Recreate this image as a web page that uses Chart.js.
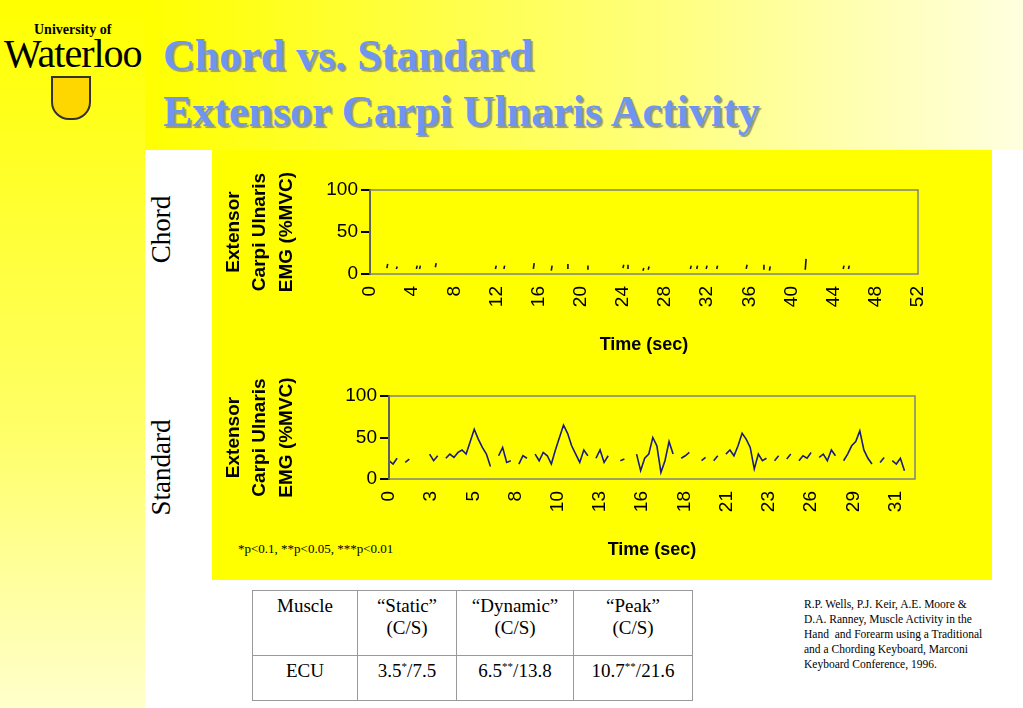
<!DOCTYPE html>
<html><head><meta charset="utf-8">
<script src="https://cdn.jsdelivr.net/npm/chart.js@4"></script>
<style>
body{margin:0;width:1023px;height:708px;position:relative;overflow:hidden;background:#fff;font-family:"Liberation Serif",serif}
#leftstrip{position:absolute;left:0;top:0;width:145px;height:708px;background:linear-gradient(180deg,#ffff00 0%,#ffff66 60%,#ffffcc 100%)}
#topband{position:absolute;left:145px;top:0;width:878px;height:150px;background:linear-gradient(90deg,#ffff00 0%,#ffff80 60%,#ffffe0 100%)}
#panel{position:absolute;left:212px;top:150px;width:780px;height:430px;background:#ffff00}
.title{position:absolute;left:163px;font:bold 44px "Liberation Serif",serif;color:#6f95f0;text-shadow:2px 2px 1px #9a9a70;white-space:nowrap}
.side{position:absolute;font:27px "Liberation Serif",serif;transform:rotate(-90deg);transform-origin:center;white-space:nowrap}
canvas{position:absolute}
table{position:absolute;left:252px;top:590px;border-collapse:collapse;font:19px "Liberation Serif",serif;text-align:center}
td{border:1px solid #999;vertical-align:top;padding:4px 2px}
sup{font-size:11px}
</style></head><body>
<div id="leftstrip"></div><div id="topband"></div><div id="panel"></div>
<div style="position:absolute;left:34px;top:22px;font:bold 14px 'Liberation Serif',serif">University of</div>
<div style="position:absolute;left:4px;top:30px;font:40px 'Liberation Serif',serif;letter-spacing:-1px">Waterloo</div>
<div style="position:absolute;left:51px;top:76px;width:36px;height:40px;background:#ffd700;border:2px solid #333;border-radius:0 0 18px 18px"></div>
<div class="title" style="top:30px">Chord vs. Standard</div>
<div class="title" style="top:86px">Extensor Carpi Ulnaris Activity</div>
<div class="side" style="left:128px;top:214px">Chord</div>
<div class="side" style="left:114px;top:452px">Standard</div>
<div style="position:absolute;left:238px;top:541px;font:13px 'Liberation Serif',serif">*p&lt;0.1, **p&lt;0.05, ***p&lt;0.01</div>
<canvas id="c1" width="730" height="190" style="left:220px;top:170px;width:730px;height:190px"></canvas>
<canvas id="c2" width="730" height="189" style="left:220px;top:376px;width:730px;height:189px"></canvas>
<table>
<tr style="height:65px"><td style="width:100px">Muscle</td><td style="width:94px">“Static”<br>(C/S)</td><td style="width:112px">“Dynamic”<br>(C/S)</td><td style="width:114px">“Peak”<br>(C/S)</td></tr>
<tr style="height:45px"><td>ECU</td><td>3.5<sup>*</sup>/7.5</td><td>6.5<sup>**</sup>/13.8</td><td>10.7<sup>**</sup>/21.6</td></tr>
</table>
<div style="position:absolute;left:804px;top:597px;width:180px;font:11.5px 'Liberation Serif',serif;line-height:15px">R.P. Wells, P.J. Keir, A.E. Moore &amp; D.A. Ranney, Muscle Activity in the Hand&nbsp; and Forearm using a Traditional and a Chording Keyboard, Marconi Keyboard Conference, 1996.</div>
<script>
// Chord: short dashes (time, low, high)
const chordT=[1.6,2.5,4.4,4.7,6.2,11.9,12.7,15.5,17.2,18.7,20.6,24.0,24.4,25.9,26.4,30.4,31.0,31.9,32.9,35.7,37.3,37.9,41.3,44.9,45.4];
const chordLo=[7,6,6,6,8,6,6,6,4,7,6,7,7,4,5,6,6,6,6,6,6,4,5,6,6];
const chordHi=[12,9,10,10,13,10,10,13,10,12,10,11,11,7,9,10,10,10,10,11,11,9,18,10,10];
const chordTicks=[0,4,8,12,16,20,24,28,32,36,40,44,48,52];
// Standard: 0.25 s samples from t=0
const stdStep=0.25;
const stdVals=[22,18,25,null,20,24,null,12, null,null,30,22,28,null,25,30, 26,32,35,30,45,60,48,38, 30,15,null,28,38,20,22,null,
 18,28,25,null,30,22,32,28, 18,35,50,65,55,40,30,20, 35,28,null,25,35,20,28,null, null,22,24,null,null,30,10,25,
 30,50,40,8,22,45,30,null, 25,28,32,null,null,22,26,null, 22,28,null,30,35,28,40,55, 48,38,12,30,22,25,null,22,
 28,null,24,30,null,22,28,25, 32,null,26,30,22,35,28,null, 22,30,40,45,58,35,25,18, null,20,26,null,22,18,25,10];
const stdTickVals=[0,2.6,5.2,7.8,10.4,13,15.6,18.2,20.8,23.4,26,28.6,31.2];
const stdTickLabels=['0','3','5','8','10','13','16','18','21','23','26','29','31'];
const yTicks=[0,50,100];

const chordData=[];
chordT.forEach((t,i)=>{chordData.push({x:t,y:chordLo[i]},{x:t+0.08,y:chordHi[i]},{x:t+0.1,y:null});});
const stdData=stdVals.map((v,i)=>({x:i*stdStep,y:v}));

const frame={id:'frame',afterDraw(c){const a=c.chartArea,ctx=c.ctx;ctx.save();ctx.strokeStyle='#808080';ctx.lineWidth=1.5;ctx.strokeRect(a.left,a.top,a.right-a.left,a.bottom-a.top);ctx.restore();}};
const F='"Liberation Sans", Arial, sans-serif';
function make(id,data,xmax,ticks,labels,yw,padR,color){
 new Chart(document.getElementById(id),{type:'line',data:{datasets:[{data,borderColor:color,borderWidth:1.6,pointRadius:0,spanGaps:false,tension:0}]},
 options:{animation:false,responsive:false,layout:{padding:{top:20,right:padR}},plugins:{legend:{display:false},tooltip:{enabled:false}},
 scales:{x:{type:'linear',min:0,max:xmax,grid:{display:false},border:{display:false},
   afterBuildTicks(s){s.ticks=ticks.map(v=>({value:v}));},
   afterFit(s){s.height=86;},
   ticks:{color:'#000',font:{family:F,size:19},maxRotation:90,minRotation:90,autoSkip:false,padding:4,callback:(v,i)=>labels[i]},
   title:{display:true,text:'Time (sec)',color:'#000',font:{family:F,size:18,weight:'bold'},padding:{top:4}}},
  y:{min:0,max:100,afterBuildTicks(s){s.ticks=yTicks.map(v=>({value:v}));},afterFit(s){s.width=yw;},
   grid:{drawOnChartArea:false,color:'#000',tickLength:9,lineWidth:2},border:{color:'#000',width:2},
   ticks:{color:'#000',font:{family:F,size:19},padding:3},
   title:{display:true,text:['Extensor','Carpi Ulnaris','EMG (%MVC)'],color:'#000',font:{family:F,size:19,weight:'bold',lineHeight:1.4},padding:0}}}},
 plugins:[frame]});
}
make('c1',chordData,52,chordTicks,chordTicks.map(String),150,32,'#101030');
make('c2',stdData,32.4,stdTickVals,stdTickLabels,169,35,'#1a1a80');
</script>
</body></html>
